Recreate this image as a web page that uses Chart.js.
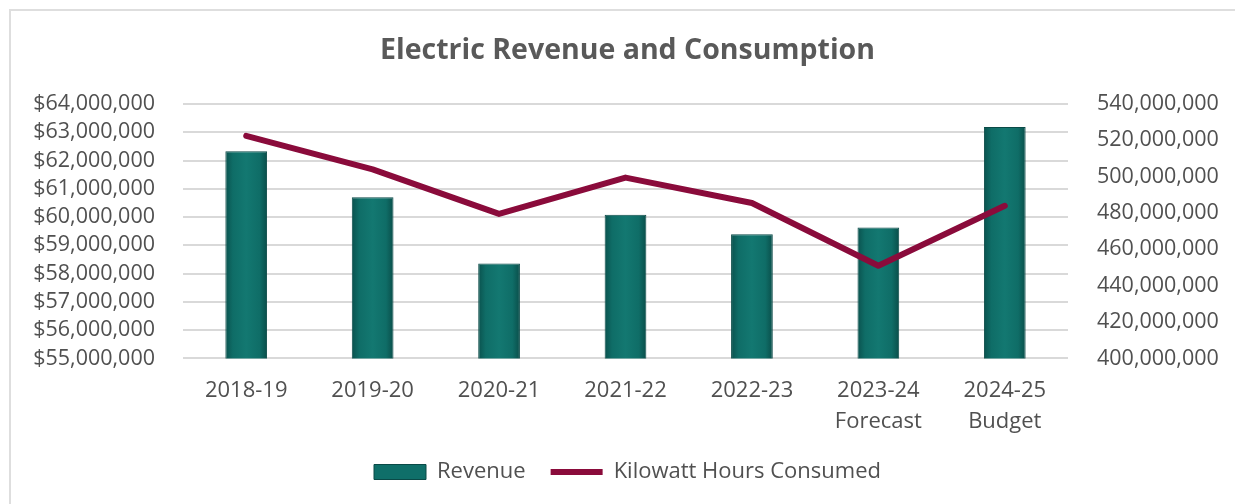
<!DOCTYPE html>
<html>
<head>
<meta charset="utf-8">
<title>Electric Revenue and Consumption</title>
<script src="https://cdn.jsdelivr.net/npm/chart.js@4.4.1/dist/chart.umd.min.js"></script>
<style>
  html, body { margin: 0; padding: 0; background: #fff; overflow: hidden; }
  .frame { position: absolute; left: 9px; top: 9px; width: 1400px; height: 700px;
           border: 2px solid #dedede; box-sizing: border-box; }
  .wrap { position: absolute; left: 0; top: 0; width: 1235px; height: 504px; }
</style>
</head>
<body>
<div class="frame"></div>
<div class="wrap"><canvas id="comboChart"></canvas></div>
<script>
"use strict";

// Kategorier och värden
const years = ["2018-19", "2019-20", "2020-21", "2021-22", "2022-23", ["2023-24", "Forecast"], ["2024-25", "Budget"]];
const revenue = [62330000, 60700000, 58360000, 60080000, 59390000, 59630000, 63190000];
const kwhConsumed = [522500000, 504000000, 479500000, 499500000, 485500000, 451000000, 484000000];

const textColor = "#505050";
const fontFamily = "'Open Sans', 'Noto Sans', sans-serif";
const barColor = "#0f6f69";
const lineColor = "#8a0b3b";

// Horisontell gradient för staplarna
function barGradient(context) {
    const chart = context.chart;
    const area = chart.chartArea;
    if (!area) return barColor;
    const x = chart.scales.x.getPixelForValue(context.dataIndex);
    const half = (area.right - area.left) / years.length * 0.33 / 2;
    const g = chart.ctx.createLinearGradient(x - half, 0, x + half, 0);
    g.addColorStop(0, "#0a524e");
    g.addColorStop(0.18, "#0f6d67");
    g.addColorStop(0.5, "#137871");
    g.addColorStop(0.82, "#0f6d67");
    g.addColorStop(1, "#0a4e4a");
    return g;
}

const ctx = document.getElementById("comboChart");

const comboChart = new Chart(ctx, {
    data: {
        labels: years,
        datasets: [{
            type: "bar",
            label: "Revenue",
            data: revenue,
            yAxisID: "y",
            backgroundColor: barGradient,
            borderColor: "#0a4a47",
            borderWidth: 1,
            barPercentage: 0.33,
            categoryPercentage: 1,
            pointStyle: "rect",
            order: 1
        }, {
            type: "line",
            label: "Kilowatt Hours Consumed",
            data: kwhConsumed,
            yAxisID: "y1",
            borderColor: lineColor,
            backgroundColor: lineColor,
            borderWidth: 6,
            borderCapStyle: "round",
            borderJoinStyle: "round",
            pointRadius: 0,
            pointHoverRadius: 0,
            pointStyle: "line",
            tension: 0,
            order: 0
        }]
    },
    options: {
        responsive: true,
        maintainAspectRatio: false,
        animation: false,
        layout: {
            padding: { top: 0, left: 20, right: 0, bottom: 11 }
        },
        plugins: {
            title: {
                display: true,
                text: "Electric Revenue and Consumption",
                color: "#595959",
                font: { family: fontFamily, size: 28.5, weight: "bold" },
                padding: { top: 33.5, bottom: 36.3 }
            },
            legend: {
                position: "bottom",
                labels: {
                    color: textColor,
                    font: { family: fontFamily, size: 22 },
                    usePointStyle: true,
                    pointStyleWidth: 52,
                    boxHeight: 15,
                    padding: 25,
                    sort: (a, b) => a.datasetIndex - b.datasetIndex,
                    generateLabels: chart => {
                        const items = Chart.defaults.plugins.legend.labels.generateLabels(chart);
                        items.forEach(item => {
                            if (item.datasetIndex === 0) {
                                item.fillStyle = barColor;
                                item.strokeStyle = "#0a4a47";
                                item.lineWidth = 1;
                            }
                        });
                        return items;
                    }
                }
            },
            tooltip: { enabled: false }
        },
        scales: {
            x: {
                grid: { display: false, drawTicks: false },
                border: { display: false },
                afterFit: scale => { scale.height = 77.6; },
                ticks: {
                    color: textColor,
                    font: { family: fontFamily, size: 22, lineHeight: 1.41 },
                    padding: 16.5,
                    maxRotation: 0
                }
            },
            y: {
                position: "left",
                min: 55000000,
                max: 64000000,
                grid: { color: "#d9d9d9", lineWidth: 2, drawTicks: false },
                border: { display: false },
                afterFit: scale => { scale.width = 163; },
                ticks: {
                    stepSize: 1000000,
                    autoSkip: false,
                    color: textColor,
                    font: { family: fontFamily, size: 21.5 },
                    padding: 28,
                    callback: value => "$" + value.toLocaleString("en-US")
                }
            },
            y1: {
                position: "right",
                min: 400000000,
                max: 540000000,
                grid: { display: false, drawTicks: false },
                border: { display: false },
                afterFit: scale => { scale.width = 167; },
                ticks: {
                    stepSize: 20000000,
                    autoSkip: false,
                    color: textColor,
                    font: { family: fontFamily, size: 21.5 },
                    padding: 29,
                    callback: value => value.toLocaleString("en-US")
                }
            }
        }
    }
});
</script>
</body>
</html>
